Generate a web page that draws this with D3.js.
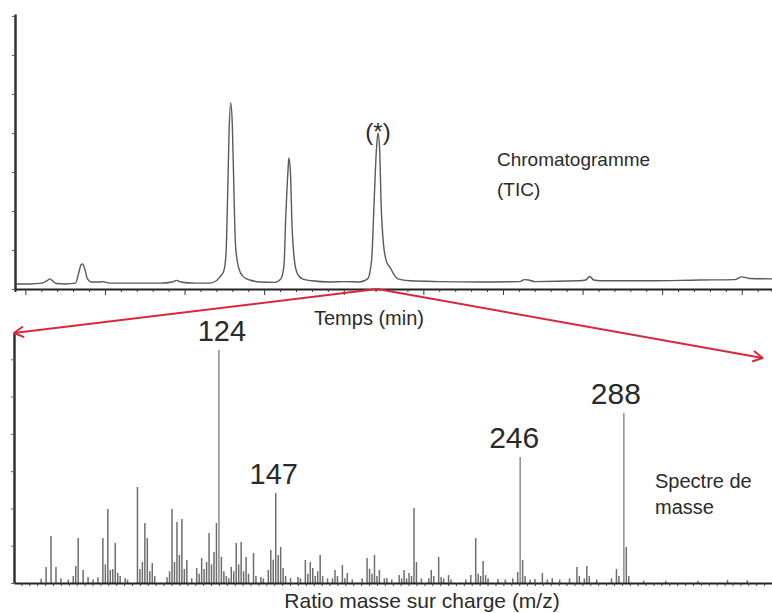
<!DOCTYPE html>
<html>
<head>
<meta charset="utf-8">
<script src="https://cdn.jsdelivr.net/npm/d3@7"></script>
<style>
  html, body { margin: 0; padding: 0; background: #fff; }
  svg { display: block; font-family: "Liberation Sans", Arial, Helvetica, sans-serif; }
</style>
</head>
<body>
<svg id="chart" width="772" height="613"></svg>
<script>
// ---- Chromatogram (TIC): retention time (min) vs total ion current ----
const ticTime = [4.87, 5.06, 5.21, 5.27, 5.31, 5.34, 5.39, 5.50, 5.63, 5.67, 5.70, 5.72, 5.75, 5.78, 5.83,
  5.94, 5.97, 6.06, 6.31, 6.69, 6.85, 6.90, 6.95, 7.13, 7.32, 7.40, 7.45, 7.49, 7.52, 7.54, 7.56, 7.58,
  7.60, 7.62, 7.64, 7.68, 7.73, 7.82, 7.95, 8.13, 8.21, 8.25, 8.27, 8.30, 8.31, 8.33, 8.35, 8.38, 8.42,
  8.48, 8.60, 8.82, 9.01, 9.20, 9.30, 9.35, 9.38, 9.41, 9.43, 9.45, 9.47, 9.50, 9.54, 9.58, 9.62, 9.68,
  9.83, 10.21, 10.71, 11.21, 11.27, 11.32, 11.40, 11.96, 12.04, 12.09, 12.14, 12.22, 12.84, 13.47, 13.91,
  14.00, 14.10, 14.38];
const ticIntensity = [1.3, 1.3, 1.5, 2.1, 2.6, 2.1, 1.4, 1.3, 1.5, 4.1, 6.2, 6.4, 4.9, 2.6, 1.8,
  1.8, 1.9, 1.5, 1.5, 1.5, 1.8, 2.2, 1.8, 1.5, 1.5, 2.1, 3.3, 4.4, 8.7, 22.8, 40.8, 47.7,
  42.1, 25.4, 11.3, 5.4, 3.3, 2.3, 1.8, 1.7, 2.6, 6.2, 17.7, 30.5, 33.6, 30.0, 16.4, 7.4, 3.8,
  2.6, 2.1, 1.8, 1.9, 1.8, 2.6, 7.4, 21.5, 35.6, 40.0, 36.2, 21.5, 11.3, 6.9, 5.6, 4.1, 2.6,
  2.1, 1.9, 1.8, 1.9, 2.4, 2.3, 1.9, 2.1, 2.3, 3.2, 2.3, 2.1, 2.1, 2.3, 2.4,
  3.1, 2.7, 2.6];
const ticDomainTime = [4.87, 14.38];
const ticDomainIntensity = [0, 70.5];
const ticIntensityTicks = [0, 10, 20, 30, 40, 50, 60, 70];
const selectedPeakTime = 9.42;   // peak (*) whose spectrum is shown below

// ---- Mass spectrum of peak (*): m/z vs relative abundance (%) ----
const msMz = [52, 54, 56, 58, 60, 63, 65, 66, 67, 69, 71, 73, 75, 77, 78, 79, 80, 81, 82, 83, 84, 86, 87,
  91, 92, 93, 94, 95, 96, 97, 98, 103, 104, 105, 106, 107, 108, 109, 110, 111, 113, 115, 116, 117, 118,
  119, 120, 121, 122, 123, 124, 125, 126, 127, 128, 129, 130, 131, 132, 133, 134, 135, 136, 138, 139,
  141, 142, 144, 145, 146, 147, 148, 149, 150, 151, 153, 156, 157, 159, 160, 161, 162, 163, 164, 165,
  166, 168, 170, 171, 172, 174, 175, 176, 178, 182, 184, 185, 186, 187, 188, 189, 191, 192, 194, 197,
  198, 199, 200, 201, 202, 203, 204, 206, 209, 210, 211, 213, 214, 215, 217, 218, 224, 226, 228, 229,
  230, 231, 232, 233, 237, 240, 243, 245, 246, 247, 248, 250, 252, 255, 257, 259, 262, 266, 269, 270,
  272, 273, 274, 277, 283, 285, 286, 288, 289, 290, 296, 305, 318, 330, 338];
const msAbundance = [1.8, 6.9, 20.2, 6.9, 2.0, 1.5, 3.0, 7.3, 19.3, 5.6, 2.6, 1.5, 2.5, 19.3, 8.0, 31.8, 5.6, 6.0, 17.2, 4.3, 3.0, 2.1, 1.5,
  41.2, 6.0, 9.0, 25.8, 19.3, 5.0, 8.6, 3.0, 2.5, 5.0, 31.8, 9.0, 26.2, 12.0, 27.5, 6.0, 9.9, 2.0, 6.4, 4.0, 10.7, 6.0,
  9.0, 21.5, 8.0, 13.3, 25.8, 100, 11.2, 5.0, 3.0, 2.0, 6.9, 5.0, 17.2, 8.0, 17.6, 5.0, 11.2, 4.0, 12.9, 3.0,
  2.6, 2.0, 5.6, 14.2, 10.0, 38.6, 12.0, 15.5, 6.4, 3.0, 2.1, 2.6, 2.0, 9.9, 4.0, 9.0, 6.4, 3.0, 5.0, 12.0,
  3.0, 2.0, 2.0, 5.6, 3.0, 7.7, 2.0, 4.3, 1.5, 2.0, 10.7, 6.0, 4.0, 12.0, 3.0, 5.6, 2.0, 2.1, 1.5, 3.4,
  2.0, 5.6, 2.0, 4.3, 3.0, 32.2, 9.0, 2.0, 2.0, 5.6, 3.0, 11.2, 2.6, 2.0, 3.4, 1.5, 1.5, 3.4, 19.3, 4.0,
  3.0, 9.4, 3.4, 2.0, 1.7, 1.5, 2.0, 4.7, 54.1, 9.9, 3.0, 1.5, 1.7, 4.3, 1.5, 2.1, 1.5, 2.0, 6.9, 3.0,
  2.0, 7.3, 3.0, 1.5, 2.0, 6.0, 3.0, 73.0, 15.5, 3.0, 1.0, 1.0, 1.0, 1.3, 1.2];
const msDomainMz = [41, 348];
const msDomainAbundance = [0, 107.3];
const msAbundanceTicks = [0, 16, 32, 48, 64, 80, 96];
const labelledIons = [124, 147, 246, 288];

// ---- Texts ----
const peakMarkText = "(*)";
const ticTitle = ["Chromatogramme", "(TIC)"];
const timeAxisTitle = "Temps (min)";
const msTitle = ["Spectre de", "masse"];
const mzAxisTitle = "Ratio masse sur charge (m/z)";

const svg = d3.select("#chart");
const axisColor = "#222";
const textColor = "#2b2b2b";

// ================= Chromatogram =================
const xT = d3.scaleLinear().domain(ticDomainTime).range([15, 772]);
const yT = d3.scaleLinear().domain(ticDomainIntensity).range([289, 14]);

const ticData = ticTime.map((t, i) => ({ t, v: ticIntensity[i] }));

svg.append("path")
  .datum(ticData)
  .attr("fill", "none")
  .attr("stroke", "#5a5a5a")
  .attr("stroke-width", 1.4)
  .attr("stroke-linejoin", "round")
  .attr("d", d3.line().x(d => xT(d.t)).y(d => yT(d.v)).curve(d3.curveMonotoneX));

// time axis: minor ticks every 0.2 min, longer ticks on whole minutes
const gxT = svg.append("g").attr("transform", `translate(0,${yT(0)})`);
gxT.call(d3.axisBottom(xT)
  .tickValues(d3.range(5, 14.4, 0.2).map(v => +v.toFixed(1)))
  .tickSize(3).tickFormat(""));
gxT.selectAll(".tick line")
  .attr("y2", d => Math.abs(d - Math.round(d)) < 1e-6 ? 6 : 3)
  .attr("stroke", "#333").attr("stroke-width", 1);
gxT.select(".domain").attr("stroke", axisColor).attr("stroke-width", 2);

const gyT = svg.append("g").attr("transform", `translate(${xT(ticDomainTime[0])},0)`);
gyT.call(d3.axisLeft(yT).tickValues(ticIntensityTicks).tickSize(3).tickFormat("").tickSizeOuter(0));
gyT.selectAll(".tick line").attr("stroke", "#555");
gyT.select(".domain").attr("stroke", "#333").attr("stroke-width", 2.5);

// peak (*) marker and title
const apex = ticData.find(d => d.t === 9.43);
svg.append("text")
  .attr("x", xT(apex.t)).attr("y", yT(apex.v) + 7)
  .attr("text-anchor", "middle").attr("font-size", 24).attr("fill", textColor)
  .text(peakMarkText);

svg.append("g").selectAll("text").data(ticTitle).join("text")
  .attr("x", 497).attr("y", (d, i) => 166 + i * 30)
  .attr("font-size", 19).attr("fill", textColor)
  .text(d => d);

svg.append("text")
  .attr("x", 369).attr("y", 325)
  .attr("text-anchor", "middle").attr("font-size", 20).attr("fill", textColor)
  .text(timeAxisTitle);

// ================= Mass spectrum =================
const xM = d3.scaleLinear().domain(msDomainMz).range([14, 772]);
const yM = d3.scaleLinear().domain(msDomainAbundance).range([583, 333]);

const msData = msMz.map((m, i) => ({ m, a: msAbundance[i] }));

svg.append("g").selectAll("line").data(msData).join("line")
  .attr("x1", d => xM(d.m)).attr("x2", d => xM(d.m))
  .attr("y1", yM(0)).attr("y2", d => yM(d.a))
  .attr("stroke", d => d.a > 50 ? "#8c8c8c" : "#6e6e6e")
  .attr("stroke-width", 1.5);

const gxM = svg.append("g").attr("transform", `translate(0,${yM(0)})`);
gxM.call(d3.axisBottom(xM)
  .tickValues(d3.range(44, 348, 3.2))
  .tickSize(3).tickFormat("").tickSizeOuter(0));
gxM.selectAll(".tick line").attr("stroke", "#444");
gxM.select(".domain").attr("stroke", axisColor).attr("stroke-width", 2);

const gyM = svg.append("g").attr("transform", `translate(${xM(msDomainMz[0])},0)`);
gyM.call(d3.axisLeft(yM).tickValues(msAbundanceTicks).tickSize(3).tickFormat("").tickSizeOuter(0));
gyM.selectAll(".tick line").attr("stroke", "#666");
gyM.select(".domain").attr("stroke", "#333").attr("stroke-width", 2.5);

// ion labels above their peaks
const ionLabelStyle = { 124: { dx: 3, size: 29 }, 147: { dx: -2, size: 29 }, 246: { dx: -6, size: 30 }, 288: { dx: -8, size: 30 } };
svg.append("g").selectAll("text")
  .data(labelledIons.map(m => msData.find(d => d.m === m)))
  .join("text")
  .attr("x", d => xM(d.m) + ionLabelStyle[d.m].dx)
  .attr("y", d => yM(d.a) - 9)
  .attr("text-anchor", "middle")
  .attr("font-size", d => ionLabelStyle[d.m].size)
  .attr("fill", "#2a2a2a")
  .text(d => d.m);

svg.append("g").selectAll("text").data(msTitle).join("text")
  .attr("x", 655).attr("y", (d, i) => 488 + i * 26)
  .attr("font-size", 20).attr("fill", textColor)
  .text(d => d);

svg.append("text")
  .attr("x", 422).attr("y", 608)
  .attr("text-anchor", "middle").attr("font-size", 21).attr("fill", textColor)
  .text(mzAxisTitle);

// ================= Red arrows: peak (*) -> its spectrum =================
const red = "#d8283c";
svg.append("defs").append("marker")
  .attr("id", "head").attr("viewBox", "-12 -7 14 14")
  .attr("markerUnits", "userSpaceOnUse")
  .attr("markerWidth", 14).attr("markerHeight", 14)
  .attr("refX", 0).attr("refY", 0).attr("orient", "auto")
  .append("path").attr("d", "M-9,-5 L0,0 L-9,5")
  .attr("fill", "none").attr("stroke", red).attr("stroke-width", 2)
  .attr("stroke-linecap", "round").attr("stroke-linejoin", "round");

const origin = [xT(selectedPeakTime), yT(0)];
const tips = [
  [xM(msDomainMz[0]), yM(msDomainAbundance[1])],
  [xM(344.2), yM(96.6)]
];
svg.append("g").selectAll("line").data(tips).join("line")
  .attr("x1", origin[0]).attr("y1", origin[1])
  .attr("x2", d => d[0]).attr("y2", d => d[1])
  .attr("stroke", red).attr("stroke-width", 2)
  .attr("marker-end", "url(#head)");
</script>
</body>
</html>
